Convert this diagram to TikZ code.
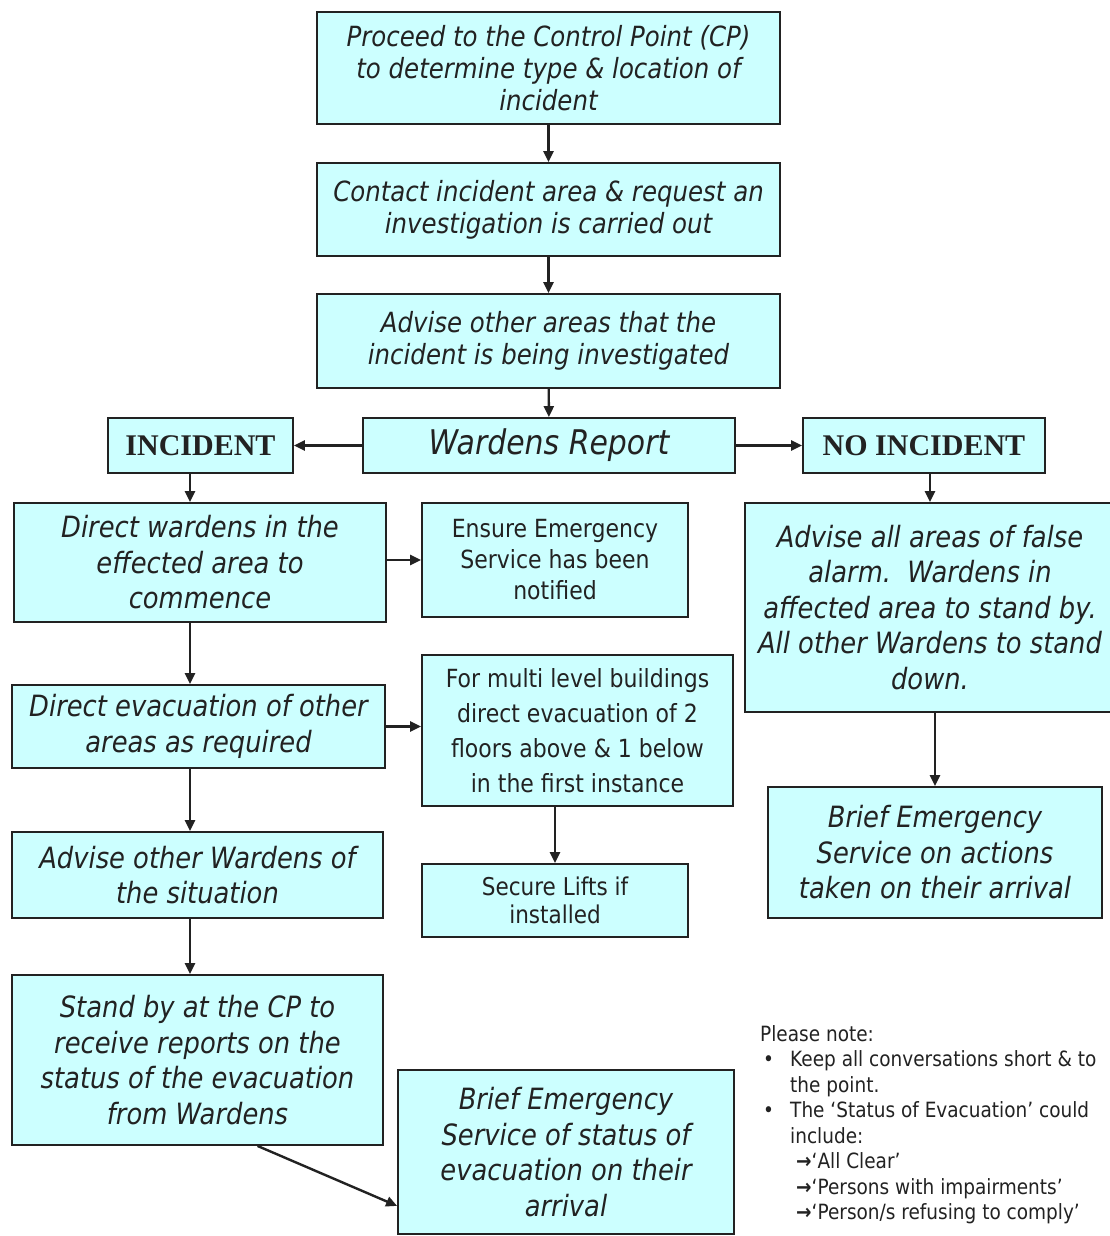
\documentclass[tikz,border=0pt]{standalone}
\usepackage{fontspec}
\setmainfont{DejaVu Sans}[FakeStretch=0.88]
\newfontfamily\headfont{Liberation Serif}
\usepackage{xcolor}
\usepackage{tikz}
\usetikzlibrary{positioning,calc,arrows.meta}
\definecolor{boxcyan}{HTML}{CCFFFF}
\definecolor{inkgray}{HTML}{222222}

\begin{document}
\begin{tikzpicture}[x=1pt,y=-1pt,
    flowbox/.style={draw=inkgray, line width=1.8pt, fill=boxcyan, align=center, inner sep=2pt, text=inkgray},
    ittext/.style={font=\fontsize{27.8}{32}\selectfont\itshape},
    bigittext/.style={font=\fontsize{29.3}{35.5}\selectfont\itshape},
    uptext/.style={font=\fontsize{25}{31}\selectfont},
    headtext/.style={font=\fontsize{30}{34}\selectfont\headfont\bfseries},
    arr/.style={draw=inkgray, line width=2.4pt, -{Triangle[length=11pt,width=10pt]}}]
    \useasboundingbox[fill=white] (0,0) rectangle (1110,1236);

    % main column
    \node [flowbox, ittext, minimum width=463pt, minimum height=112pt] (proceed) at (548.5,68)
        {Proceed to the Control Point (CP)\\ to determine type \& location of\\ incident};
    \node [flowbox, ittext, minimum width=463pt, minimum height=93pt] (contact) at (548.5,209.5)
        {Contact incident area \& request an\\ investigation is carried out};
    \node [flowbox, ittext, minimum width=463pt, minimum height=94pt] (adviseareas) at (548.5,341)
        {Advise other areas that the\\ incident is being investigated};
    \node [flowbox, font=\fontsize{34}{38}\selectfont\itshape, minimum width=372pt, minimum height=55pt] (report) at (549,445.5)
        {Wardens Report};
    \node [flowbox, headtext, minimum width=185pt, minimum height=55pt] (incident) at (200.5,445.5) {INCIDENT};
    \node [flowbox, headtext, minimum width=242pt, minimum height=55pt] (noincident) at (924,445.5) {NO INCIDENT};

    % incident side
    \node [flowbox, bigittext, minimum width=372pt, minimum height=119pt] (directwardens) at (200,562.5)
        {Direct wardens in the\\ effected area to\\ commence};
    \node [flowbox, uptext, minimum width=266pt, minimum height=114pt] (ensure) at (555,560)
        {Ensure Emergency\\ Service has been\\ notified};
    \node [flowbox, uptext, font=\fontsize{25}{35}\selectfont, minimum width=311pt, minimum height=151pt] (multilevel) at (577.5,730.5)
        {For multi level buildings\\ direct evacuation of 2\\ floors above \& 1 below\\ in the first instance};
    \node [flowbox, bigittext, minimum width=373pt, minimum height=83pt] (directevac) at (198.5,726.5)
        {Direct evacuation of other\\ areas as required};
    \node [flowbox, uptext, font=\fontsize{24.5}{28}\selectfont, minimum width=266pt, minimum height=73pt] (lifts) at (555,900.5)
        {Secure Lifts if\\ installed};
    \node [flowbox, bigittext, minimum width=371pt, minimum height=86pt] (advisewardens) at (197.5,875)
        {Advise other Wardens of\\ the situation};
    \node [flowbox, bigittext, minimum width=371pt, minimum height=170pt] (standby) at (197.5,1060)
        {Stand by at the CP to\\ receive reports on the\\ status of the evacuation\\ from Wardens};
    \node [flowbox, bigittext, minimum width=336pt, minimum height=164pt] (briefstatus) at (566,1152)
        {Brief Emergency\\ Service of status of\\ evacuation on their\\ arrival};

    % no incident side
    \node [flowbox, bigittext, minimum width=370pt, minimum height=209pt] (falsealarm) at (930,607.5)
        {Advise all areas of false\\ alarm.\ \ Wardens in\\ affected area to stand by.\\ All other Wardens to stand\\ down.};
    \node [flowbox, bigittext, minimum width=334pt, minimum height=131pt] (briefactions) at (935,852.5)
        {Brief Emergency\\ Service on actions\\ taken on their arrival};

    % note
    \node [anchor=north west, align=left, inner sep=0pt, text=inkgray, font=\fontsize{21}{25.5}\selectfont] (note) at (760,1025)
        {Please note:\\
         \makebox[30pt][l]{\hspace{3pt}•}Keep all conversations short \& to\\
         \hspace*{30pt}the point.\\
         \makebox[30pt][l]{\hspace{3pt}•}The ‘Status of Evacuation’ could\\
         \hspace*{30pt}include:\\
         \hspace*{36pt}{\bfseries →}‘All Clear’\\
         \hspace*{36pt}{\bfseries →}‘Persons with impairments’\\
         \hspace*{36pt}{\bfseries →}‘Person/s refusing to comply’};

    % connectors
    \coordinate (lane) at (190,0);
    \draw [arr] (proceed) -- (contact);
    \draw [arr] (contact) -- (adviseareas);
    \draw [arr] (adviseareas) -- (report);
    \draw [arr] (report) -- (incident);
    \draw [arr] (report) -- (noincident);
    \draw [arr] (incident.south -| lane) -- (directwardens.north -| lane);
    \draw [arr] (directwardens.east |- ensure) -- (ensure.west);
    \draw [arr] (directwardens.south -| lane) -- (directevac.north -| lane);
    \draw [arr] (directevac.east) -- (directevac.east -| multilevel.west);
    \draw [arr] (lifts.north |- multilevel.south) -- (lifts.north);
    \draw [arr] (directevac.south -| lane) -- (advisewardens.north -| lane);
    \draw [arr] (advisewardens.south -| lane) -- (standby.north -| lane);
    \draw [arr] ([xshift=60pt]standby.south) -- ([yshift=29pt]briefstatus.south west);
    \draw [arr] (falsealarm.north |- noincident.south) -- (falsealarm.north);
    \draw [arr] (briefactions.north |- falsealarm.south) -- (briefactions.north);
\end{tikzpicture}
\end{document}
